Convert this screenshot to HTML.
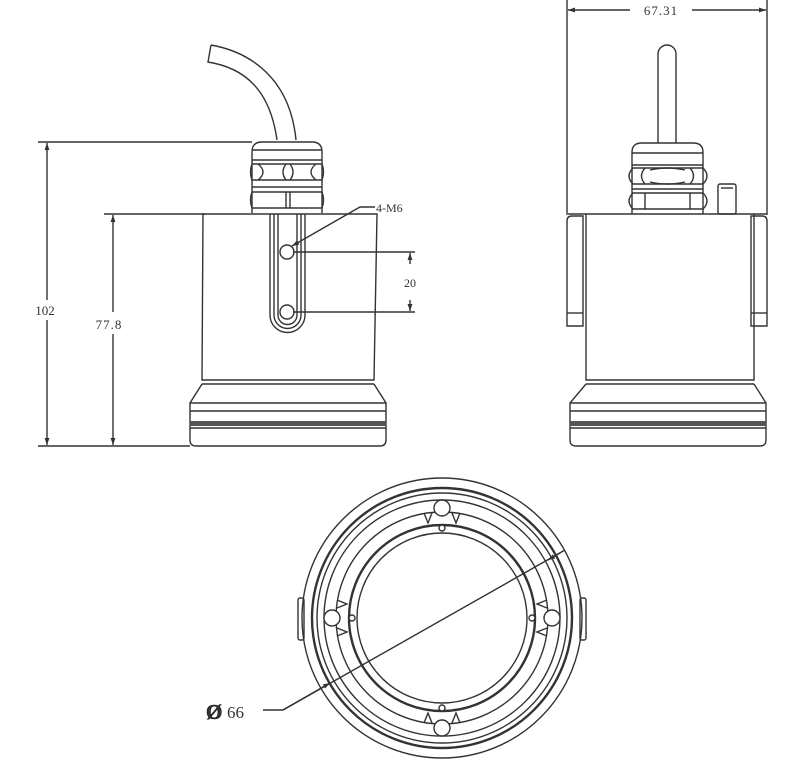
<!DOCTYPE html>
<html><head><meta charset="utf-8"><style>
html,body{margin:0;padding:0;background:#fff;}
svg{display:block;}
text{font-family:"Liberation Serif",serif;fill:#333;}
</style></head><body>
<svg width="800" height="769" viewBox="0 0 800 769" xmlns="http://www.w3.org/2000/svg">
<defs>
<marker id="ar" viewBox="0 0 10 10" refX="10" refY="5" markerWidth="11" markerHeight="7" orient="auto-start-reverse" markerUnits="userSpaceOnUse"><path d="M0,1.5 L10,5 L0,8.5 Z" fill="#333"/></marker>
</defs>
<g fill="none" stroke="#333" stroke-width="1.4">
<!-- LEFT VIEW dims -->
<line x1="38" y1="142" x2="252" y2="142"/>
<line x1="104" y1="214" x2="205" y2="214"/>
<line x1="38" y1="446" x2="190" y2="446"/>
<line x1="47" y1="143" x2="47" y2="300" marker-start="url(#ar)"/>
<line x1="47" y1="320" x2="47" y2="445" marker-end="url(#ar)"/>
<line x1="113" y1="215" x2="113" y2="312" marker-start="url(#ar)"/>
<line x1="113" y1="334" x2="113" y2="445" marker-end="url(#ar)"/>
<!-- cable -->
<path d="M211,45 L208,62 C245,68 270,90 277,140"/>
<path d="M211,45 C250,52 290,78 296,140"/>
<!-- gland -->
<path d="M252,213 L252,152 Q252,142 262,142 L312,142 Q322,142 322,152 L322,213"/>
<line x1="252" y1="150" x2="322" y2="150"/>
<line x1="252" y1="160" x2="322" y2="160"/>
<path d="M252,164 Q249,172 252,180 L322,180 Q325,172 322,164 Z"/>
<path d="M258,164 Q268,172 258,180 M286,164 Q280,172 286,180 M290,164 Q296,172 290,180 M316,164 Q306,172 316,180"/>
<line x1="252" y1="187" x2="322" y2="187"/>
<path d="M252,192 Q249,200 252,208 L322,208 Q325,200 322,192 Z"/>
<path d="M286,192 L286,208 M290,192 L290,208"/>
<!-- body -->
<path d="M203,214 L377,214 L374,380 L202,380 Z"/>
<line x1="202" y1="384" x2="374" y2="384"/>
<path d="M202,384 L190,403 L190,440 Q190,446 196,446 L380,446 Q386,446 386,440 L386,403 L374,384"/>
<line x1="190" y1="403" x2="386" y2="403"/>
<line x1="190" y1="411" x2="386" y2="411"/>
<line x1="190" y1="428" x2="386" y2="428"/>
<rect x="190" y="421" width="196" height="5" fill="#555" stroke="none"/>
<!-- slot -->
<path d="M270,214 L270,315 A17.5,17.5 0 0 0 305,315 L305,214"/>
<path d="M274,214 L274,315 A13.5,13.5 0 0 0 301,315 L301,214"/>
<path d="M278,214 L278,315 A9.5,9.5 0 0 0 297,315 L297,214"/>
<circle cx="287" cy="252" r="7"/>
<circle cx="287" cy="312" r="7"/>
<line x1="293" y1="252" x2="415" y2="252"/>
<line x1="293" y1="312" x2="415" y2="312"/>
<line x1="410" y1="264" x2="410" y2="253" marker-end="url(#ar)"/>
<line x1="410" y1="300" x2="410" y2="311" marker-end="url(#ar)"/>
<path d="M375,207 L360,207 L292,246" marker-end="url(#ar)"/>
<!-- RIGHT VIEW -->
<line x1="567" y1="0" x2="567" y2="215"/>
<line x1="767" y1="0" x2="767" y2="215"/>
<line x1="568" y1="10" x2="630" y2="10" marker-start="url(#ar)"/>
<line x1="692" y1="10" x2="766" y2="10" marker-end="url(#ar)"/>
<path d="M658,143 L658,54 A9,9 0 0 1 676,54 L676,143"/>
<path d="M632,214 L632,152 Q632,143 642,143 L693,143 Q703,143 703,152 L703,214"/>
<line x1="632" y1="153" x2="703" y2="153"/>
<line x1="632" y1="165" x2="703" y2="165"/>
<path d="M633,168 Q625,176 633,184 L703,184 Q711,176 703,168 Z"/>
<path d="M645,168 Q638,176 645,184 M690,168 Q697,176 690,184"/>
<path d="M650,170 Q667,166 685,170 M650,182 Q667,186 685,182"/>
<line x1="632" y1="189" x2="703" y2="189"/>
<path d="M633,193 Q625,201 633,209 L703,209 Q711,201 703,193 Z"/>
<path d="M645,193 L645,209 M690,193 L690,209"/>
<rect x="718" y="184" width="18" height="30" rx="2"/>
<line x1="721" y1="188" x2="733" y2="188"/>
<path d="M568,214 L767,214"/>
<path d="M567,221 Q567,216 572,216 L583,216 L583,326 L567,326 Z"/>
<line x1="567" y1="313" x2="583" y2="313"/>
<path d="M767,221 Q767,216 762,216 L751,216 L751,326 L767,326 Z"/>
<line x1="751" y1="313" x2="767" y2="313"/>
<path d="M586,214 L586,380 L754,380 L754,214"/>
<line x1="586" y1="384" x2="754" y2="384"/>
<path d="M586,384 L570,403 L570,440 Q570,446 576,446 L760,446 Q766,446 766,440 L766,403 L754,384"/>
<line x1="570" y1="403" x2="766" y2="403"/>
<line x1="570" y1="411" x2="766" y2="411"/>
<line x1="570" y1="428" x2="766" y2="428"/>
<rect x="570" y="421" width="196" height="5" fill="#555" stroke="none"/>
<!-- BOTTOM VIEW -->
<circle cx="442" cy="618" r="140"/>
<circle cx="442" cy="618" r="130" stroke-width="2.4"/>
<circle cx="442" cy="618" r="125"/>
<circle cx="442" cy="618" r="118"/>
<circle cx="442" cy="618" r="106"/>
<circle cx="442" cy="618" r="93" stroke-width="2.4"/>
<circle cx="442" cy="618" r="85"/>
<rect x="298" y="598" width="6" height="42" rx="2"/>
<rect x="580" y="598" width="6" height="42" rx="2"/>
<g fill="#fff">
<circle cx="442" cy="508" r="8"/><circle cx="442" cy="528" r="3"/>
<circle cx="442" cy="728" r="8"/><circle cx="442" cy="708" r="3"/>
<circle cx="332" cy="618" r="8"/><circle cx="352" cy="618" r="3"/>
<circle cx="552" cy="618" r="8"/><circle cx="532" cy="618" r="3"/>
</g>
<path d="M424,513 L428,523 L432,513 M460,513 L456,523 L452,513"/>
<path d="M424,723 L428,713 L432,723 M460,723 L456,713 L452,723"/>
<path d="M337,600 L347,604 L337,608 M337,636 L347,632 L337,628"/>
<path d="M547,600 L537,604 L547,608 M547,636 L537,632 L547,628"/>
<path d="M263,710 L283,710 L565,550" />
<line x1="283" y1="710" x2="330" y2="683" marker-end="url(#ar)"/>
<line x1="560" y1="553" x2="548" y2="560" marker-end="url(#ar)"/>
</g>
<text x="45" y="315" font-size="13" text-anchor="middle">102</text>
<text x="109" y="329" font-size="13" text-anchor="middle" letter-spacing="1">77.8</text>
<text x="410" y="287" font-size="12" text-anchor="middle">20</text>
<text x="376" y="212" font-size="12">4-M6</text>
<text x="661" y="15" font-size="13" text-anchor="middle" letter-spacing="1">67.31</text>
<text x="206" y="719" font-size="21" font-weight="bold" font-family="Liberation Sans, sans-serif" fill="#111" stroke="#111" stroke-width="0.6">Ø</text>
<text x="227" y="718" font-size="17" font-family="Liberation Sans, sans-serif">66</text>
</svg>
</body></html>
